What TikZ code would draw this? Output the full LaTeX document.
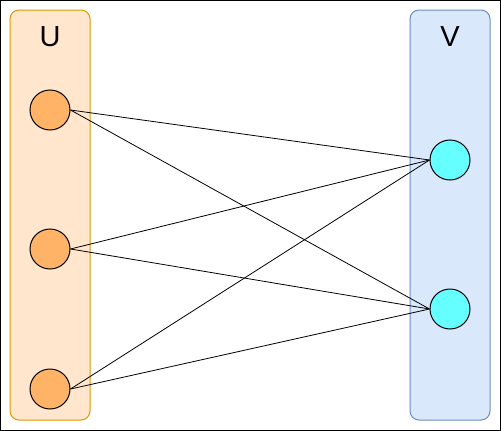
\documentclass[tikz,border=0pt]{standalone}
\usepackage{fontspec}
\setmainfont{Liberation Sans}
\usepackage{xcolor}
\usetikzlibrary{positioning}

\definecolor{uFill}{HTML}{FFE6CC}
\definecolor{uLine}{HTML}{D79B00}
\definecolor{vFill}{HTML}{DAE8FC}
\definecolor{vLine}{HTML}{6C8EBF}
\definecolor{uNode}{HTML}{FFB366}
\definecolor{vNode}{HTML}{66FFFF}

\begin{document}
\begin{tikzpicture}[x=1pt, y=-1pt,
    group/.style={rectangle, draw, rounded corners=9pt, minimum width=80pt, minimum height=410pt, line width=1pt},
    vertex/.style={circle, draw=black, minimum size=40pt, inner sep=0pt, line width=1pt},
    label/.style={font=\fontsize{29}{32}\selectfont, inner sep=0pt},
    edge/.style={-, line width=0.8pt, black}
]
\useasboundingbox (0,0) rectangle (501,431);
\draw[line width=1pt] (0.5,0.5) rectangle (500.5,430.5);

\node[group, fill=uFill, draw=uLine] (U) at (50,215) {};
\node[group, fill=vFill, draw=vLine] (V) at (450,215) {};
\node[label] (lblU) at (50,37) {U};
\node[label] (lblV) at (450,37) {V};

\node[vertex, fill=uNode] (u1) at (50,110) {};
\node[vertex, fill=uNode] (u2) at (50,249) {};
\node[vertex, fill=uNode] (u3) at (50,389) {};
\node[vertex, fill=vNode] (v1) at (450,160) {};
\node[vertex, fill=vNode] (v2) at (450,309) {};

\draw[edge] (u1.east) -- (v1.west);
\draw[edge] (u1.east) -- (v2.west);
\draw[edge] (u2.east) -- (v1.west);
\draw[edge] (u2.east) -- (v2.west);
\draw[edge] (u3.east) -- (v1.west);
\draw[edge] (u3.east) -- (v2.west);
\end{tikzpicture}
\end{document}
